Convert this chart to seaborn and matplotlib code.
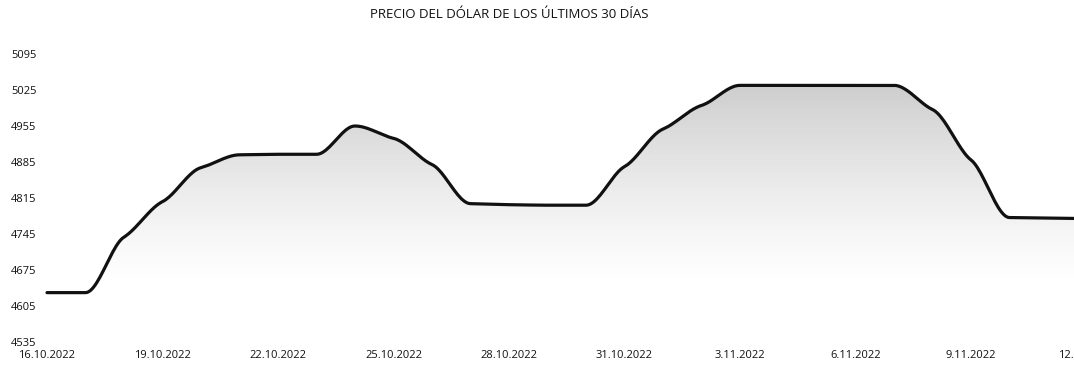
import numpy as np
import pandas as pd
import matplotlib
matplotlib.use("Agg")
import matplotlib.pyplot as plt
import seaborn as sns

# Precio diario del dólar (COP), un valor por día desde el 16.10.2022
dias = list(range(28))
precios = [4631, 4631, 4739, 4808, 4874, 4899, 4900, 4900, 4955, 4931,
           4880, 4804, 4802, 4801, 4801, 4876, 4949, 4995, 5034, 5034,
           5034, 5034, 5034, 4987, 4889, 4777, 4776, 4775]
etiquetas_x = ['16.10.2022', '19.10.2022', '22.10.2022', '25.10.2022',
               '28.10.2022', '31.10.2022', '3.11.2022', '6.11.2022',
               '9.11.2022', '12.11.2022']
marcas_y = [4535, 4605, 4675, 4745, 4815, 4885, 4955, 5025, 5095]
titulo = 'PRECIO DEL DÓLAR DE LOS ÚLTIMOS 30 DÍAS'


def suavizar(x, y, n=24, tension=0.55):
    """Curva cúbica de Hermite monótona entre los puntos diarios."""
    x = np.asarray(x, float)
    y = np.asarray(y, float)
    h = np.diff(x)
    d = np.diff(y) / h
    m = np.zeros_like(y)
    m[0], m[-1] = d[0], d[-1]
    for k in range(1, len(y) - 1):
        if d[k - 1] * d[k] > 0:
            w1 = 2 * h[k] + h[k - 1]
            w2 = h[k] + 2 * h[k - 1]
            m[k] = (w1 + w2) / (w1 / d[k - 1] + w2 / d[k])
    m *= tension
    xs, ys = [], []
    for k in range(len(x) - 1):
        t = np.linspace(0, 1, n, endpoint=False)
        h00 = 2 * t**3 - 3 * t**2 + 1
        h10 = t**3 - 2 * t**2 + t
        h01 = -2 * t**3 + 3 * t**2
        h11 = t**3 - t**2
        xs.append(x[k] + t * h[k])
        ys.append(h00 * y[k] + h10 * h[k] * m[k] + h01 * y[k + 1] + h11 * h[k] * m[k + 1])
    xs.append([x[-1]])
    ys.append([y[-1]])
    return np.concatenate(xs), np.concatenate(ys)


sns.set_theme(style="white")
plt.rcParams['font.family'] = ['Open Sans', 'DejaVu Sans']

W, H = 1074, 381
fig = plt.figure(figsize=(W / 100, H / 100), dpi=100)

# Área de trazado (en píxeles); la gráfica continúa más allá del borde derecho
px_izq, px_der = 40, 1100
px_sup, px_inf = 54, 342
px_origen, px_por_dia = 47, 38.5
ax = fig.add_axes([px_izq / W, 1 - px_inf / H,
                   (px_der - px_izq) / W, (px_inf - px_sup) / H])

xlim = ((px_izq - px_origen) / px_por_dia, (px_der - px_origen) / px_por_dia)
ylim = (marcas_y[0], marcas_y[-1])

xs, ys = suavizar(dias, precios)
curva = pd.DataFrame({'dia': xs, 'precio': ys})

# Relleno bajo la curva con degradado vertical gris
relleno = ax.fill_between(curva['dia'], curva['precio'], ylim[0],
                          facecolor='none', edgecolor='none')
niveles = np.linspace(ylim[0], ylim[1], 300)
alfa = np.clip((niveles - 4640) / (5035 - 4640), 0, 1) ** 1.3 * 0.30
grad = np.zeros((len(niveles), 1, 4))
grad[..., :3] = 0.35
grad[:, 0, 3] = alfa
img = ax.imshow(grad, extent=[xlim[0], xlim[1], ylim[0], ylim[1]],
                origin='lower', aspect='auto', interpolation='bilinear', zorder=1)
img.set_clip_path(relleno.get_paths()[0], transform=ax.transData)

sns.lineplot(data=curva, x='dia', y='precio', ax=ax, color='#111111',
             linewidth=2.3, sort=False, zorder=3)

ax.set_xlim(*xlim)
ax.set_ylim(*ylim)
ax.set_xticks(dias[::3])
ax.set_xticklabels(etiquetas_x)
ax.set_yticks(marcas_y)
ax.set_yticklabels([str(v) for v in marcas_y])
ax.set_xlabel('')
ax.set_ylabel('')
ax.tick_params(axis='x', length=0, pad=6, labelsize=8, labelcolor='#111111')
ax.tick_params(axis='y', length=0, pad=2.5, labelsize=8, labelcolor='#111111')
sns.despine(ax=ax, left=True, bottom=True)
ax.grid(False)

fig.text(509 / W, 1 - 14 / H, titulo, ha='center', va='center',
         fontsize=9.5, color='#111111')

fig.savefig('out.png', dpi=100)
